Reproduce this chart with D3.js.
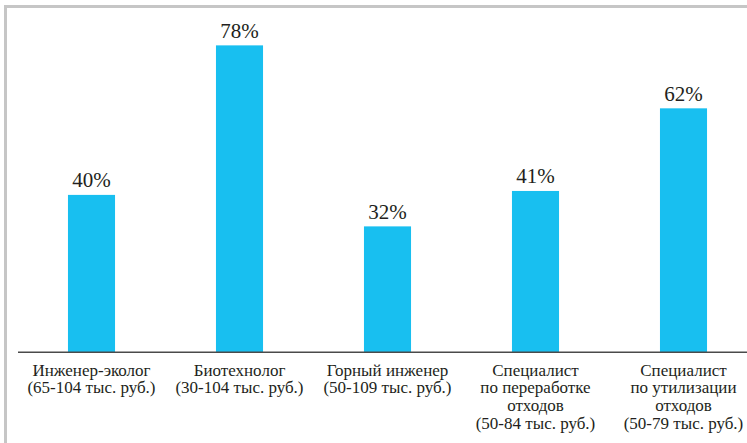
<!DOCTYPE html>
<html><head><meta charset="utf-8">
<script src="https://cdn.jsdelivr.net/npm/d3@7"></script>
</head><body style="margin:0;background:#fff">
<svg id="chart" width="747" height="443" style="display:block"></svg>
<script>
const categories = [
  ["Инженер-эколог", "(65-104 тыс. руб.)"],
  ["Биотехнолог", "(30-104 тыс. руб.)"],
  ["Горный инженер", "(50-109 тыс. руб.)"],
  ["Специалист", "по переработке", "отходов", "(50-84 тыс. руб.)"],
  ["Специалист", "по утилизации", "отходов", "(50-79 тыс. руб.)"]
];
const values = [40, 78, 32, 41, 62];
const valueLabels = ["40%", "78%", "32%", "41%", "62%"];

const svg = d3.select("#chart");
const W = 747, H = 443;
const baseY = 352.3;

const x = d3.scaleBand().domain(d3.range(categories.length))
  .range([17.5, 757.5]).paddingInner(0.682).paddingOuter(0.341);
const y = d3.scaleLinear().domain([0, 80]).range([baseY, baseY - 3.935 * 80]);

// frame
svg.append("line").attr("x1", 5.5).attr("x2", 5.5).attr("y1", 5).attr("y2", H)
  .attr("stroke", "#c6c6c6").attr("stroke-width", 3);
svg.append("line").attr("x1", 4).attr("x2", W).attr("y1", 6.5).attr("y2", 6.5)
  .attr("stroke", "#c6c6c6").attr("stroke-width", 3);

// bars
svg.append("g").selectAll("rect").data(values).join("rect")
  .attr("x", (d, i) => x(i)).attr("width", x.bandwidth())
  .attr("y", d => y(d)).attr("height", d => y(0) - y(d))
  .attr("fill", "#18bff0");

// baseline
svg.append("line").attr("x1", 18).attr("x2", W).attr("y1", baseY).attr("y2", baseY)
  .attr("stroke", "#4a4a4a").attr("stroke-width", 1.5);

// value labels
values.forEach((d, i) => {
  svg.append("text")
    .attr("x", x(i) + x.bandwidth() / 2)
    .attr("y", y(d) - 7.5)
    .style("font-family", '"Times New Roman"')
    .style("font-size", "21px")
    .style("text-anchor", "middle")
    .style("fill", "#231f20")
    .text(valueLabels[i]);
});

// category labels
categories.forEach((lines, i) => {
  lines.forEach((ln, j) => {
    svg.append("text")
      .attr("x", x(i) + x.bandwidth() / 2)
      .attr("y", 375.5 + j * 17.9)
      .style("font-family", '"Times New Roman"')
      .style("font-size", "17px")
      .style("text-anchor", "middle")
      .style("fill", "#231f20")
      .text(ln);
  });
});
</script>
</body></html>
